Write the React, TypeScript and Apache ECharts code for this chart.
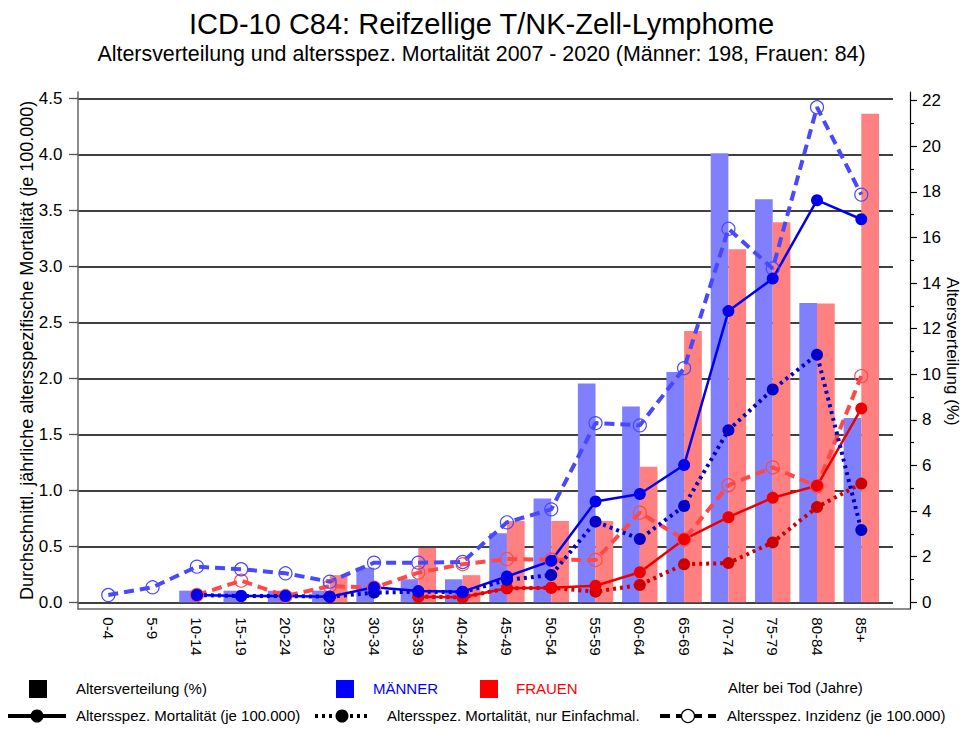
import React, { useEffect, useRef } from 'react';
import * as echarts from 'echarts';

// ---------- data ----------
const ageGroups = ['0-4','5-9','10-14','15-19','20-24','25-29','30-34','35-39','40-44','45-49','50-54','55-59','60-64','65-69','70-74','75-79','80-84','85+'];

// Altersverteilung (%) – bars, right axis
const maleDist   = [0, 0, 0.51, 0.51, 0.51, 0.51, 1.52, 1.01, 1.01, 3.03, 4.55, 9.60, 8.59, 10.10, 19.70, 17.68, 13.13, 8.08];
const femaleDist = [0, 0, 0, 0, 0, 1.19, 0, 2.38, 1.19, 3.57, 3.57, 3.57, 5.95, 11.90, 15.48, 16.67, 13.10, 21.43];

// Altersspez. Mortalität (je 100.000) – left axis
const maleMort   = [null, null, 0.065, 0.056, 0.056, 0.05, 0.134, 0.10, 0.095, 0.23, 0.37, 0.90, 0.967, 1.226, 2.60, 2.89, 3.59, 3.42];
const femaleMort = [null, null, null, null, null, 0.05, null, 0.05, 0.045, 0.125, 0.13, 0.148, 0.268, 0.5625, 0.76, 0.934, 1.04, 1.73];

// Altersspez. Mortalität, nur Einfachmalignome
const maleSingle   = [null, null, 0.065, 0.056, 0.056, 0.05, 0.086, 0.095, 0.09, 0.20, 0.244, 0.72, 0.565, 0.86, 1.537, 1.90, 2.21, 0.645];
const femaleSingle = [null, null, null, null, null, 0.05, null, 0.05, 0.045, 0.125, 0.13, 0.095, 0.155, 0.34, 0.35, 0.535, 0.85, 1.06];

// Altersspez. Inzidenz (je 100.000)
const maleInc   = [0.065, 0.134, 0.318, 0.295, 0.259, 0.184, 0.354, 0.354, 0.36, 0.714, 0.83, 1.60, 1.58, 2.09, 3.335, 2.98, 4.42, 3.64];
const femaleInc = [null, null, 0.065, 0.193, 0.056, 0.145, 0.13, 0.265, 0.34, 0.386, 0.38, 0.378, 0.80, 0.5625, 1.045, 1.205, 1.035, 2.02];

const leftTicks = { min: 0, max: 4.5, interval: 0.5 };
const rightTicks = { min: 0, max: 22, interval: 2 };

const FONT = '"Liberation Sans", Arial, sans-serif';

const C = {
  blueSolid: '#0000ee', blueDot: '#0000c8', blueDash: '#4848ff',
  redSolid: '#ee0000', redDot: '#cc0000', redDash: '#ff4848',
  blueBar: '#8080ff', redBar: '#ff8080',
};

function lineSeries(name: string, data: (number | null)[], color: string, kind: 'solid' | 'dotted' | 'dashed') {
  const open = kind === 'dashed';
  return {
    name,
    type: 'line',
    xAxisIndex: 1,
    yAxisIndex: 1,
    data,
    symbol: 'circle',
    symbolSize: open ? 13 : 12,
    connectNulls: false,
    lineStyle: {
      color,
      width: kind === 'solid' ? 2.5 : 4,
      type: kind === 'solid' ? 'solid' : kind === 'dotted' ? [3, 4] : [10, 6],
      cap: 'butt',
    },
    itemStyle: open
      ? { color: 'rgba(0,0,0,0)', borderColor: color, borderWidth: 1.2 }
      : { color, borderWidth: 0 },
    emphasis: { disabled: true },
    z: 3,
  };
}

const noBounds = { containLabel: false, outerBoundsMode: 'none' };

const option = {
  animation: false,
  textStyle: { fontFamily: FONT },
  title: [
    { text: 'ICD-10 C84: Reifzellige T/NK-Zell-Lymphome', left: 'center', top: 3,
      textStyle: { fontFamily: FONT, fontSize: 29, fontWeight: 'normal', color: '#000', lineHeight: 32 } },
    { text: 'Altersverteilung und altersspez. Mortalität 2007 - 2020 (Männer: 198, Frauen: 84)', left: 'center', top: 37,
      textStyle: { fontFamily: FONT, fontSize: 21.4, fontWeight: 'normal', color: '#000', lineHeight: 24 } },
  ],
  grid: [
    { left: 78, right: 70, top: 98.3, bottom: 126.7, ...noBounds },        // A: gridlines + left axis
    { left: 86.15, right: 79.55, top: 98.3, bottom: 126.7, ...noBounds },  // B: lines + x labels
    { left: 86.15, right: 79.55, top: 100.7, bottom: 126.7, ...noBounds }, // C: bars + right axis
    { left: 78, right: 53, top: 92, bottom: 120, ...noBounds },            // D: frame
  ],
  xAxis: [
    { gridIndex: 0, type: 'value', min: 0, max: 1, show: false },
    { gridIndex: 1, type: 'category', data: ageGroups, boundaryGap: true,
      axisLine: { show: false }, axisTick: { show: false }, splitLine: { show: false },
      axisLabel: { interval: 0, rotate: -90, margin: 15, fontSize: 15, color: '#000', fontFamily: FONT, padding: [8, 0, 0, 0] } },
    { gridIndex: 2, type: 'category', data: ageGroups, boundaryGap: true, show: false },
    { gridIndex: 3, type: 'value', min: 0, max: 1,
      axisLine: { show: true, lineStyle: { color: '#666', width: 1.5 } },
      axisTick: { show: false }, axisLabel: { show: false }, splitLine: { show: false } },
  ],
  yAxis: [
    { gridIndex: 0, type: 'value', ...leftTicks, position: 'left',
      name: 'Durchschnittl. jährliche altersspezifische Mortalität (je 100.000)',
      nameLocation: 'middle', nameRotate: 90, nameGap: 42, nameMoveOverlap: false,
      nameTextStyle: { fontFamily: FONT, fontSize: 18, color: '#000' },
      axisLine: { show: false },
      axisTick: { show: true, length: 9, lineStyle: { color: '#555', width: 1.3 } },
      axisLabel: { margin: 15.5, fontSize: 17, color: '#000', fontFamily: FONT, formatter: (v: number) => v.toFixed(1) },
      splitLine: { show: true, lineStyle: { color: '#000', width: 1.5 } } },
    { gridIndex: 1, type: 'value', ...leftTicks, show: false, splitLine: { show: false } },
    { gridIndex: 2, type: 'value', ...rightTicks, position: 'right', offset: 26.55,
      name: 'Altersverteilung (%)', nameLocation: 'middle', nameRotate: -90, nameGap: 34, nameMoveOverlap: false,
      nameTextStyle: { fontFamily: FONT, fontSize: 17, color: '#000' },
      axisLine: { show: false },
      axisTick: { show: true, length: 7, lineStyle: { color: '#000', width: 1.2 } },
      minorTick: { show: true, splitNumber: 2, length: 4, lineStyle: { color: '#000', width: 1.2 } },
      axisLabel: { margin: 12, fontSize: 17, color: '#000', fontFamily: FONT },
      splitLine: { show: false } },
    { gridIndex: 3, type: 'value', min: 0, max: 1, position: 'left',
      axisLine: { show: true, lineStyle: { color: '#666', width: 1.5 } },
      axisTick: { show: false }, axisLabel: { show: false }, splitLine: { show: false } },
    { gridIndex: 3, type: 'value', min: 0, max: 1, position: 'right',
      axisLine: { show: true, lineStyle: { color: '#000', width: 1.2 } },
      axisTick: { show: false }, axisLabel: { show: false }, splitLine: { show: false } },
  ],
  series: [
    { name: 'Männer %', type: 'bar', xAxisIndex: 2, yAxisIndex: 2, data: maleDist,
      barWidth: 17.7, barGap: '0%', itemStyle: { color: C.blueBar }, emphasis: { disabled: true }, z: 2 },
    { name: 'Frauen %', type: 'bar', xAxisIndex: 2, yAxisIndex: 2, data: femaleDist,
      barWidth: 17.7, barGap: '0%', itemStyle: { color: C.redBar }, emphasis: { disabled: true }, z: 2 },
    lineSeries('Frauen Inzidenz', femaleInc, C.redDash, 'dashed'),
    lineSeries('Frauen Einfach', femaleSingle, C.redDot, 'dotted'),
    lineSeries('Frauen Mortalität', femaleMort, C.redSolid, 'solid'),
    lineSeries('Männer Inzidenz', maleInc, C.blueDash, 'dashed'),
    lineSeries('Männer Einfach', maleSingle, C.blueDot, 'dotted'),
    lineSeries('Männer Mortalität', maleMort, C.blueSolid, 'solid'),
  ],
  graphic: [
    // row 1
    { type: 'rect', left: 29, top: 680, shape: { width: 18, height: 18 }, style: { fill: '#000' } },
    { type: 'text', left: 76, top: 681, style: { text: 'Altersverteilung (%)', font: `15px ${FONT}`, fill: '#000' } },
    { type: 'rect', left: 336, top: 680, shape: { width: 18, height: 18 }, style: { fill: '#0000ff' } },
    { type: 'text', left: 373, top: 681, style: { text: 'MÄNNER', font: `15px ${FONT}`, fill: '#0000ff' } },
    { type: 'rect', left: 480, top: 680, shape: { width: 18, height: 18 }, style: { fill: '#ff0000' } },
    { type: 'text', left: 516, top: 681, style: { text: 'FRAUEN', font: `15px ${FONT}`, fill: '#ff0000' } },
    { type: 'text', left: 728, top: 680, style: { text: 'Alter bei Tod (Jahre)', font: `15px ${FONT}`, fill: '#000' } },
    // row 2
    { type: 'line', shape: { x1: 8, y1: 716, x2: 66, y2: 716 }, style: { stroke: '#000', lineWidth: 4 } },
    { type: 'circle', shape: { cx: 37, cy: 716, r: 6.5 }, style: { fill: '#000' } },
    { type: 'text', left: 76, top: 708, style: { text: 'Altersspez. Mortalität (je 100.000)', font: `15px ${FONT}`, fill: '#000' } },
    { type: 'line', shape: { x1: 315, y1: 716, x2: 368, y2: 716 }, style: { stroke: '#000', lineWidth: 4, lineDash: [3, 4] } },
    { type: 'circle', shape: { cx: 342, cy: 716, r: 6.5 }, style: { fill: '#000' } },
    { type: 'text', left: 387, top: 708, style: { text: 'Altersspez. Mortalität, nur Einfachmal.', font: `15px ${FONT}`, fill: '#000' } },
    { type: 'line', shape: { x1: 660, y1: 716, x2: 716, y2: 716 }, style: { stroke: '#000', lineWidth: 4, lineDash: [10, 6] } },
    { type: 'circle', shape: { cx: 688, cy: 716, r: 6.5 }, style: { fill: '#fff', stroke: '#000', lineWidth: 1.2 } },
    { type: 'text', left: 727, top: 708, style: { text: 'Altersspez. Inzidenz (je 100.000)', font: `15px ${FONT}`, fill: '#000' } },
  ],
};

export default function App() {
  const ref = useRef<HTMLDivElement>(null);
  useEffect(() => {
    if (!ref.current) return;
    const chart = echarts.init(ref.current, null, { renderer: 'svg' });
    chart.setOption(option as any);
    return () => chart.dispose();
  }, []);
  return <div ref={ref} style={{ position: 'absolute', left: 0, top: 0, width: 963, height: 729, background: '#fff' }} />;
}
